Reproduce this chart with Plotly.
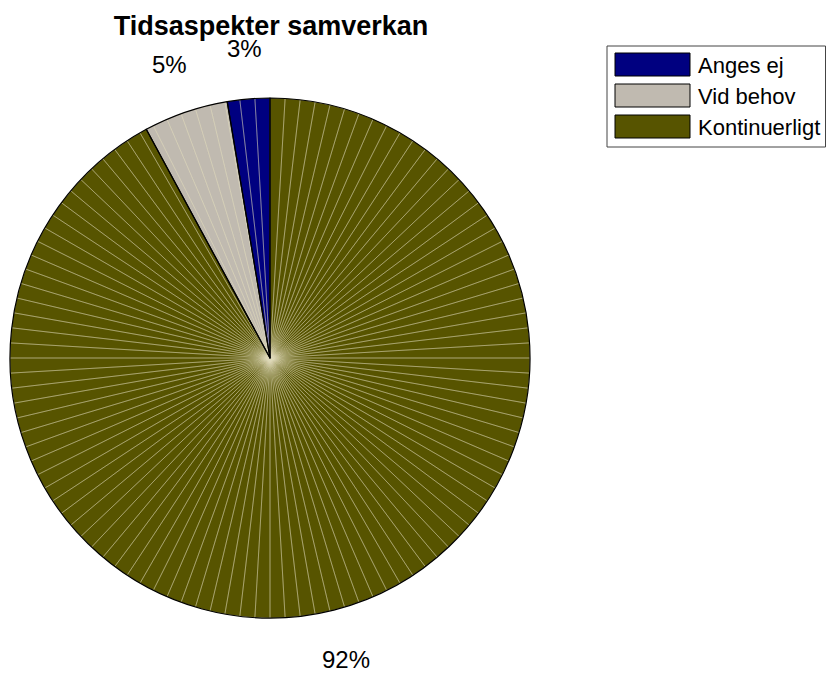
import math
import plotly.graph_objects as go

# Survey answers: how the collaboration is organised over time
categories = ["Anges ej", "Vid behov", "Kontinuerligt"]
counts = [1, 2, 35]
colors = ["#000080", "#c0bab0", "#575400"]

W, H = 826, 674
FONT = "Liberation Sans, Arial, sans-serif"

# Pie placement in pixels
cx, cy, R = 270, 358, 260
domain = dict(
    x=[(cx - R) / W, (cx + R) / W],
    y=[(H - cy - R) / H, (H - cy + R) / H],
)

# Slices run clockwise from 12 o'clock in reverse order, so that
# "Anges ej" sits just left of the top and "Kontinuerligt" fills the rest.
pie_labels = categories[::-1]
pie_values = counts[::-1]
pie_colors = colors[::-1]

fig = go.Figure()

# Main filled pie
fig.add_trace(go.Pie(
    labels=pie_labels, values=pie_values, sort=False, direction="clockwise",
    rotation=0, marker=dict(colors=pie_colors, line=dict(color="black", width=0)),
    textinfo="none", hoverinfo="label+percent", showlegend=False, domain=domain,
))

# Fine radial hatch lines drawn over the fill
hatch_segments = 108
fig.add_trace(go.Pie(
    values=[1] * hatch_segments, sort=False, direction="clockwise",
    marker=dict(colors=["rgba(0,0,0,0)"] * hatch_segments,
                line=dict(color="rgba(225,222,190,0.5)", width=0.7)),
    textinfo="none", hoverinfo="skip", showlegend=False, domain=domain,
))

# Black slice outlines on top
fig.add_trace(go.Pie(
    values=pie_values, sort=False, direction="clockwise",
    marker=dict(colors=["rgba(0,0,0,0)"] * len(pie_values), line=dict(color="black", width=1.2)),
    textinfo="none", hoverinfo="skip", showlegend=False, domain=domain,
))

# Percentage labels placed outside each slice (angles measured counterclockwise from the top)
total = sum(counts)
cum = 0
annotations = []
for c in counts:
    mid = (cum + c / 2) / total * 2 * math.pi
    cum += c
    lx = cx - math.sin(mid) * R * 1.195
    ly = cy - math.cos(mid) * R * 1.195
    annotations.append(dict(
        x=lx / W, y=1 - ly / H, xref="paper", yref="paper",
        text=f"{round(100 * c / total)}%", showarrow=False,
        font=dict(family=FONT, size=24, color="black"),
        xanchor="center", yanchor="middle",
    ))

# Legend box with wide swatches
shapes = [dict(type="rect", xref="paper", yref="paper",
               x0=607 / W, x1=825.5 / W, y0=1 - 147 / H, y1=1 - 46 / H,
               line=dict(color="#444444", width=1), fillcolor="white", layer="below")]
row_top = [53, 84, 115]
for name, col, top in zip(categories, colors, row_top):
    shapes.append(dict(type="rect", xref="paper", yref="paper",
                       x0=615 / W, x1=690 / W, y0=1 - (top + 23) / H, y1=1 - top / H,
                       line=dict(color="black", width=1), fillcolor=col))
    annotations.append(dict(
        x=696 / W, y=1 - (top + 12) / H, xref="paper", yref="paper",
        text=name, showarrow=False, xanchor="left", yanchor="middle",
        font=dict(family=FONT, size=22, color="black"),
    ))

fig.update_layout(
    width=W, height=H,
    margin=dict(l=0, r=0, t=0, b=0),
    paper_bgcolor="white", plot_bgcolor="white",
    title=dict(text="<b>Tidsaspekter samverkan</b>", x=271 / W, xanchor="center",
               y=1 - 26 / H, yanchor="middle",
               font=dict(family=FONT, size=27, color="black")),
    annotations=annotations, shapes=shapes, showlegend=False,
)

fig.write_html("out.html")
